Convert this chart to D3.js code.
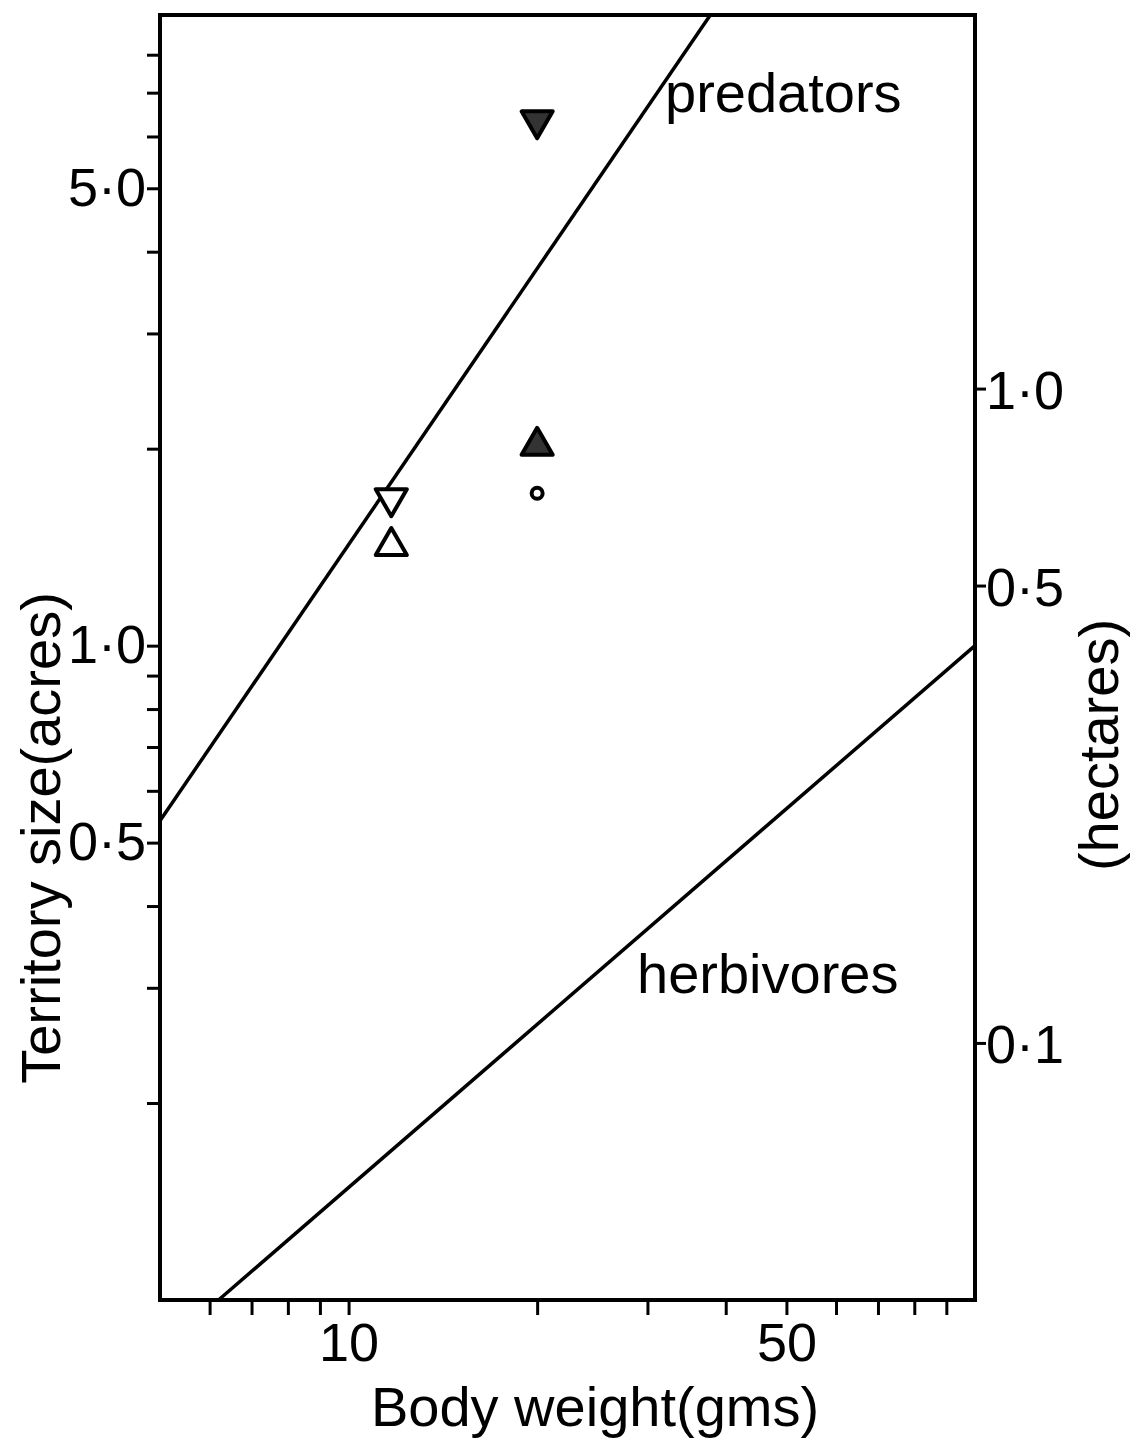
<!DOCTYPE html>
<html>
<head>
<meta charset="utf-8">
<script src="https://cdn.jsdelivr.net/npm/d3@7"></script>
<style>
  body { margin: 0; background: #fff; }
  svg text { font-family: "Liberation Sans", Arial, sans-serif; fill: #000; }
</style>
</head>
<body>
<svg id="chart" width="1136" height="1448"></svg>
<script>
// body weight (g) vs territory size (acres), log-log
const xTicks = [6, 7, 8, 9, 10, 20, 30, 40, 50, 60, 70, 80, 90]
const xLabels = {10: "10", 50: "50"}
const yTicks = [0.2, 0.3, 0.4, 0.5, 0.6, 0.7, 0.8, 0.9, 1, 2, 3, 4, 5, 6, 7, 8]
const yLabels = {0.5: "0·5", 1: "1·0", 5: "5·0"}
const haTicks = [0.1, 0.5, 1]
const haLabels = {0.1: "0·1", 0.5: "0·5", 1: "1·0"}
const acresPerHa = 2.471

// fitted lines (end points)
const predators = [{w: 5, a: 0.54}, {w: 37.8, a: 9.2}]
const herbivores = [{w: 6.2, a: 0.1}, {w: 100, a: 1.0}]

// observed points
const points = [
  {w: 20, a: 6.35, shape: "down", filled: true},
  {w: 20, a: 2.02, shape: "up", filled: true},
  {w: 20, a: 1.71, shape: "circle", filled: false},
  {w: 11.7, a: 1.68, shape: "down", filled: false},
  {w: 11.7, a: 1.42, shape: "up", filled: false}
]

const mLeft = 160, mRight = 975, mTop = 15, mBottom = 1300

const svg = d3.select('#chart')

const xScale = d3.scaleLog().domain([5, 100]).range([mLeft, mRight])
const yScale = d3.scaleLog().domain([0.1, 9.2]).range([mBottom, mTop])
const haScale = d3.scaleLog().domain([0.1 / acresPerHa, 9.2 / acresPerHa]).range([mBottom, mTop])

// axes
const xAxis = d3.axisBottom(xScale).tickValues(xTicks)
  .tickFormat(d => xLabels[d] || "").tickSize(15).tickPadding(3)
const yAxis = d3.axisLeft(yScale).tickValues(yTicks)
  .tickFormat(d => yLabels[d] || "").tickSize(13).tickPadding(1)
const haAxis = d3.axisRight(haScale).tickValues(haTicks)
  .tickFormat(d => haLabels[d]).tickSize(11).tickPadding(0)

const gx = svg.append('g').attr('transform', `translate(0, ${mBottom})`).call(xAxis)
const gy = svg.append('g').attr('transform', `translate(${mLeft}, 0)`).call(yAxis)
const gh = svg.append('g').attr('transform', `translate(${mRight}, 0)`).call(haAxis)

;[gx, gy, gh].forEach(g => {
  g.select('.domain').remove()
  g.selectAll('.tick line').attr('stroke', '#000').attr('stroke-width', 3)
  g.selectAll('.tick text').attr('font-size', 54).attr('fill', '#000')
    .style('font-family', '"Liberation Sans", Arial, sans-serif')
})
gx.selectAll('.tick text').attr('dy', '0.8em')
gh.selectAll('.tick text').attr('dy', '0.36em')

// frame
svg.append('rect')
  .attr('x', mLeft).attr('y', mTop)
  .attr('width', mRight - mLeft).attr('height', mBottom - mTop)
  .attr('fill', 'none').attr('stroke', '#000').attr('stroke-width', 4)

// regression lines
const line = d3.line().x(d => xScale(d.w)).y(d => yScale(d.a))
svg.selectAll('.fit')
  .data([predators, herbivores])
  .enter()
  .append('path')
  .attr('class', 'fit')
  .attr('d', line)
  .attr('fill', 'none')
  .attr('stroke', '#000')
  .attr('stroke-width', 3.5)

// markers
const tri = d3.symbol().type(d3.symbolTriangle).size(420)
const mk = svg.append('g')
mk.selectAll('path')
  .data(points.filter(p => p.shape !== "circle"))
  .enter()
  .append('path')
  .attr('d', tri)
  .attr('transform', p => `translate(${xScale(p.w)}, ${yScale(p.a)})` + (p.shape === "down" ? " rotate(180)" : ""))
  .attr('fill', p => p.filled ? '#333' : '#fff')
  .attr('stroke', '#000')
  .attr('stroke-width', 4)
  .attr('stroke-linejoin', 'round')

mk.selectAll('circle')
  .data(points.filter(p => p.shape === "circle"))
  .enter()
  .append('circle')
  .attr('cx', p => xScale(p.w))
  .attr('cy', p => yScale(p.a))
  .attr('r', 5.5)
  .attr('fill', '#fff')
  .attr('stroke', '#000')
  .attr('stroke-width', 4)

// line labels
svg.append('text').attr('x', 665).attr('y', 112).attr('font-size', 56).text('predators')
svg.append('text').attr('x', 637).attr('y', 993).attr('font-size', 56).text('herbivores')

// axis titles
svg.append('text').attr('x', 595).attr('y', 1426).attr('font-size', 56)
  .attr('text-anchor', 'middle').text('Body weight(gms)')
svg.append('text').attr('transform', 'translate(60, 838) rotate(-90)')
  .attr('font-size', 56).attr('text-anchor', 'middle').text('Territory size(acres)')
svg.append('text').attr('transform', 'translate(1118, 745) rotate(-90)')
  .attr('font-size', 56).attr('text-anchor', 'middle').text('(hectares)')
</script>
</body>
</html>
